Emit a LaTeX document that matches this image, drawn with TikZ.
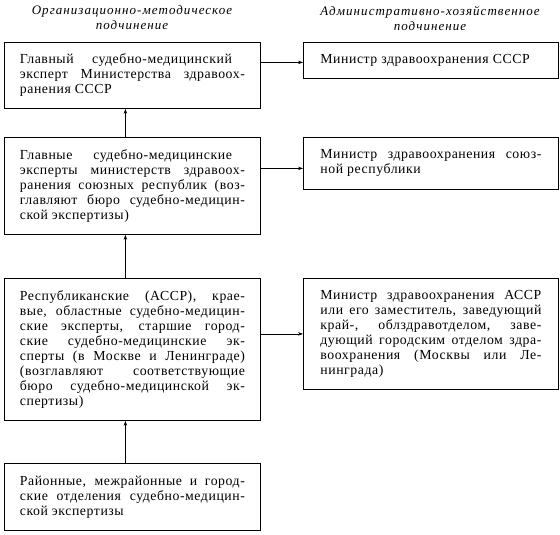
\documentclass[tikz,border=0pt]{standalone}
\usepackage{fontspec}
\setmainfont[LetterSpace=4]{Liberation Serif}
\usetikzlibrary{arrows.meta}
\setlength{\parindent}{0pt}
% one justified line of a box text
\newlength{\jlwidth}
\newcommand{\jl}[2][\jlwidth]{{\spaceskip=0pt\xspaceskip=0pt\makebox[#1][s]{#2}}}

\begin{document}
\begin{tikzpicture}[
    x=1pt, y=-1pt,
    font=\fontsize{13.8}{14.9}\selectfont,
    >={Stealth[length=5pt, width=3.5pt]},
    box/.style={
        rectangle, draw=black, line width=0.8pt, anchor=north west,
        align=justify, inner ysep=2pt
    },
    lbox/.style={box, text width=225pt, inner xsep=15.5pt, minimum height=#1,
        execute at begin node={\setlength{\jlwidth}{225pt}}},
    rbox/.style={box, text width=221pt, inner xsep=17pt, minimum height=#1,
        execute at begin node={\setlength{\jlwidth}{221pt}}},
    head/.style={font=\fontsize{13}{15}\selectfont\itshape\addfontfeature{LetterSpace=8},
        align=center},
    arr/.style={->, line width=0.6pt}
]
\useasboundingbox (0,0) rectangle (560,535);

% Column headings
\node[head] (hleft) at (132,18)
    {Организационно-методическое\\подчинение};
\node[head] (hright) at (430,18)
    {Административно-хозяйственное\\подчинение};

% Organisational and methodical chain
\node[lbox=66pt] (chief) at (4,42)
    {\jl[212pt]{Главный судебно-медицинский}\\
     \jl{эксперт Министерства здравоох-}\\
     ранения СССР};
\node[lbox=97pt] (union) at (4,137)
    {\jl[212pt]{Главные судебно-медицинские}\\
     \jl{эксперты министерств здравоох-}\\
     \jl{ранения союзных республик (воз-}\\
     \jl{главляют бюро судебно-медицин-}\\
     ской экспертизы)};
\node[lbox=142pt] (region) at (4,278)
    {\jl{Республиканские (АССР), крае-}\\
     \jl{вые, областные судебно-медицин-}\\
     \jl{ские эксперты, старшие город-}\\
     \jl{ские судебно-медицинские эк-}\\
     \jl{сперты (в Москве и Ленинграде)}\\
     \jl{(возглавляют соответствующие}\\
     \jl{бюро судебно-медицинской эк-}\\
     спертизы)};
\node[lbox=67pt] (district) at (4,463)
    {\jl{Районные, межрайонные и город-}\\
     \jl{ские отделения судебно-медицин-}\\
     ской экспертизы};

% Administrative and economic chain
\node[rbox=36pt] (minussr) at (303,42)
    {Министр здравоохранения СССР};
\node[rbox=52pt] (minrep) at (303,137)
    {\jl{Министр здравоохранения союз-}\\
     ной республики};
\node[rbox=111pt] (minassr) at (303,278)
    {\jl{Министр здравоохранения АССР}\\
     \jl{или его заместитель, заведующий}\\
     \jl{край-, облздравотделом, заве-}\\
     \jl{дующий городским отделом здра-}\\
     \jl{воохранения (Москвы или Ле-}\\
     нинграда)};

% Upward subordination
\draw[arr] ([xshift=-7pt]union.north) -- ([xshift=-7pt]chief.south);
\draw[arr] ([xshift=-7pt]region.north) -- ([xshift=-7pt]union.south);
\draw[arr] ([xshift=-7pt]district.north) -- ([xshift=-7pt]region.south);

% Each expert level answers to its minister
\draw[arr] (chief.east |- minussr.west) ++(0,-2pt) -- ([yshift=-2pt]minussr.west);
\draw[arr] ([yshift=-5pt]union.east |- minrep.west) -- ([yshift=-5pt]minrep.west);
\draw[arr] (region.east |- minassr.west) -- (minassr.west);

\end{tikzpicture}
\end{document}
